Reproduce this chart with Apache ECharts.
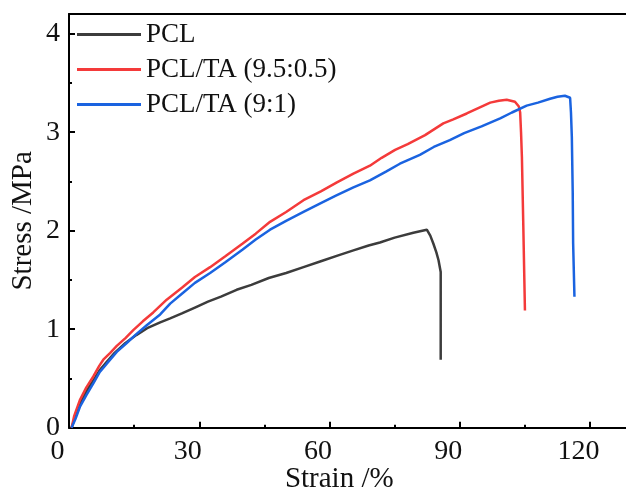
<!DOCTYPE html>
<html>
<head>
<meta charset="utf-8">
<script src="https://cdn.jsdelivr.net/npm/echarts@6/dist/echarts.min.js"></script>
<style>html,body{margin:0;padding:0;background:#fff;}#c{width:626px;height:492px;}</style>
</head>
<body>
<div id="c"></div>
<script>
const seriesNames = ['PCL', 'PCL/TA (9.5:0.5)', 'PCL/TA (9:1)'];
const xTicks = [0, 30, 60, 90, 120];
const yTicks = [0, 1, 2, 3, 4];
// [strain %, stress MPa]
const pcl = [[0.6,0],[1.5,0.12],[2.5,0.24],[4,0.37],[5.6,0.48],[7,0.58],[8.7,0.67],[10.5,0.76],[13,0.86],[15.5,0.94],[18,1.01],[21,1.07],[23.3,1.11],[26,1.16],[29,1.22],[32,1.28],[35,1.33],[38.6,1.4],[42,1.45],[46,1.52],[50,1.57],[54,1.63],[58,1.69],[62,1.75],[65.5,1.8],[69,1.85],[71.6,1.88],[75,1.93],[79.3,1.98],[82.4,2.01],[83.2,1.95],[83.9,1.87],[84.6,1.78],[85.1,1.7],[85.6,1.58],[85.6,1.2],[85.6,0.69]];
const ta955 = [[0.6,0],[1.2,0.12],[2.5,0.28],[4,0.41],[5.6,0.52],[7,0.63],[7.9,0.69],[9.5,0.76],[11,0.83],[13,0.91],[14.8,0.99],[17,1.08],[19.4,1.17],[22.5,1.3],[26,1.42],[29,1.53],[32.5,1.63],[36,1.74],[40,1.87],[43,1.97],[46.3,2.09],[50,2.19],[54,2.31],[58,2.4],[61.7,2.49],[65.5,2.58],[69.3,2.66],[72,2.74],[75.1,2.82],[78,2.88],[82,2.97],[86.2,3.09],[88.5,3.13],[91.6,3.19],[94.5,3.25],[97,3.3],[99,3.32],[100.8,3.33],[102.7,3.31],[103.6,3.26],[103.9,3.2],[104.1,3.0],[104.3,2.75],[104.6,2.1],[105.0,1.19]];
const ta91 = [[0.6,0],[1.5,0.09],[2.5,0.21],[4,0.33],[5.6,0.45],[7,0.56],[8.7,0.65],[11,0.77],[13.3,0.86],[15.5,0.95],[17.9,1.04],[21,1.15],[23.3,1.26],[26,1.36],[29,1.47],[32.5,1.57],[36,1.68],[40,1.81],[43,1.91],[46.3,2.01],[50,2.1],[54,2.19],[58,2.28],[61.7,2.36],[65.5,2.44],[69.3,2.51],[73,2.6],[76.2,2.68],[80.8,2.77],[84,2.85],[87.7,2.92],[91,2.99],[95,3.06],[99.3,3.14],[102,3.2],[105.4,3.27],[108,3.3],[110.8,3.34],[112.5,3.36],[114.2,3.37],[115.4,3.35],[115.6,3.2],[115.8,2.95],[116.0,2.4],[116.1,1.87],[116.4,1.33]];
const colors = ['#3c3c3c', '#f43a3a', '#1a63e0'];

const font = 'Liberation Serif';
const chart = echarts.init(document.getElementById('c'), null, {renderer: 'canvas'});
const mk = (name, data, color) => ({
  name, type: 'line', data, showSymbol: false, symbol: 'none',
  lineStyle: {color, width: 2.5}, itemStyle: {color}, z: 3, animation: false
});
chart.setOption({
  animation: false,
  backgroundColor: '#fff',
  grid: {left: 69, top: 14, width: 564.5, bottom: 64.3, show: false, containLabel: false, outerBoundsMode: 'none'},
  legend: {
    data: seriesNames, orient: 'vertical', left: 72, top: 16, icon: 'rect', itemWidth: 64, itemHeight: 3, itemGap: 8,
    textStyle: {fontFamily: font, fontSize: 27, color: '#111'}
  },
  xAxis: [{
    type: 'value', min: xTicks[0], max: 130, interval: 30,
    name: 'Strain /%', nameLocation: 'middle', nameGap: 37, nameMoveOverlap: false,
    nameTextStyle: {fontFamily: font, fontSize: 29, color: '#111', padding: [0, 24, 0, 0]},
    axisLine: {lineStyle: {color: '#000', width: 2}},
    axisTick: {inside: true, length: 6, lineStyle: {width: 2, color: '#000'}},
    minorTick: {show: true, splitNumber: 2, length: 3, lineStyle: {width: 2, color: '#000'}},
    splitLine: {show: false},
    axisLabel: {fontFamily: font, fontSize: 28, color: '#111', margin: 10, showMaxLabel: false, padding: [0, 23, 0, 0],
      formatter: v => xTicks.includes(v) ? String(v) : ''}
  }, {
    type: 'value', position: 'top', min: xTicks[0], max: 130, interval: 30,
    axisLine: {show: true, lineStyle: {color: '#000', width: 2}},
    axisTick: {show: false}, axisLabel: {show: false}, splitLine: {show: false}
  }],
  yAxis: {
    type: 'value', min: yTicks[0], max: 4.2, interval: 1,
    name: 'Stress /MPa', nameLocation: 'middle', nameGap: 31, nameMoveOverlap: false,
    nameTextStyle: {fontFamily: font, fontSize: 29, color: '#111'},
    axisLine: {lineStyle: {color: '#000', width: 2}},
    axisTick: {inside: true, length: 6, lineStyle: {width: 2, color: '#000'}},
    minorTick: {show: true, splitNumber: 2, length: 3, lineStyle: {width: 2, color: '#000'}},
    splitLine: {show: false},
    axisLabel: {fontFamily: font, fontSize: 28, color: '#111', margin: 9, showMaxLabel: false,
      formatter: v => yTicks.includes(v) ? String(v) : ''}
  },
  series: [mk(seriesNames[0], pcl, colors[0]), mk(seriesNames[1], ta955, colors[1]), mk(seriesNames[2], ta91, colors[2])]
});
</script>
</body>
</html>
